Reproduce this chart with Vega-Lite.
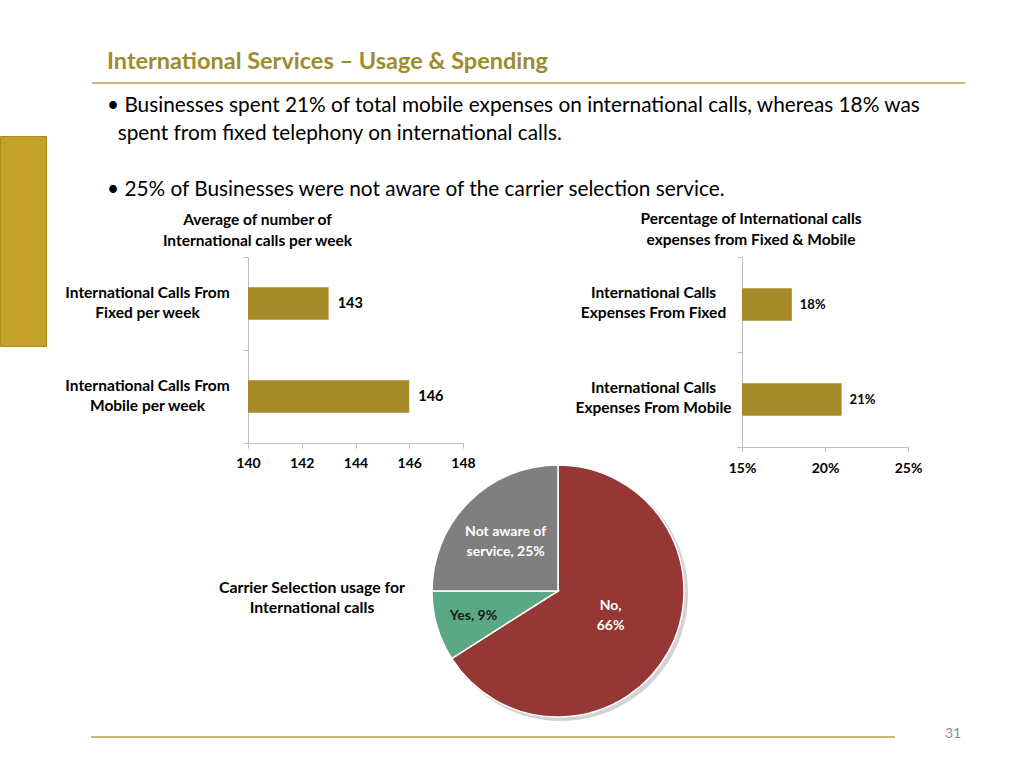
{
  "$schema": "https://vega.github.io/schema/vega-lite/v6.json",
  "autosize": {"type": "none"},
  "padding": {"left": 0, "top": 82, "right": 1024, "bottom": 686},
  "background": "white",
  "config": {
    "font": "Lato",
    "view": {"stroke": null},
    "axis": {"domainColor": "#bfbfbf", "tickColor": "#bfbfbf", "labelColor": "#000000", "labelFont": "Lato", "labelFontWeight": "bold", "grid": false, "title": null},
    "title": {"font": "Lato", "color": "#000000"}
  },
  "bounds": "flush",
  "spacing": 0,
  "vconcat": [
    {
      "bounds": "flush", "spacing": 0,
      "hconcat": [
        {"data": {"values": []}, "mark": "point", "width": 92, "height": 2},
        {"data": {"values": []}, "mark": "point", "width": 873, "height": 2,
         "view": {"fill": "#c9b77a", "stroke": null},
         "title": {"text": "International Services – Usage & Spending", "anchor": "start", "frame": "group", "dx": 15, "dy": 1, "offset": 10, "fontSize": 23.5, "fontWeight": "bold", "color": "#a08b2c"}}
      ]
    },
    {"data": {"values": []}, "mark": "point", "width": 1, "height": 54},
    {
      "bounds": "flush", "spacing": 0,
      "hconcat": [
        {"data": {"values": []}, "mark": "point", "width": 46, "height": 210,
         "view": {"fill": "#c4a22a", "stroke": "#ac8a1e", "strokeWidth": 1}},
        {"data": {"values": []}, "mark": "point", "width": 202, "height": 1},
        {
          "bounds": "flush", "spacing": 0,
          "vconcat": [
            {"data": {"values": []}, "mark": "point", "width": 1, "height": 121},
            {
              "bounds": "flush", "spacing": 279,
              "title": {
                "text": [
                  "• Businesses spent 21% of total mobile expenses on international calls, whereas 18% was",
                  "\u200b\u00a0\u00a0spent from fixed telephony on international calls.",
                  "\u200b",
                  "• 25% of Businesses were not aware of the carrier selection service."
                ],
                "anchor": "start", "frame": "group", "dx": -141, "dy": -3, "offset": 8,
                "fontSize": 20.8, "fontWeight": "normal", "lineHeight": 28, "color": "#000000"
              },
              "hconcat": [
                {
                  "width": 215, "height": 186,
                  "title": {"text": ["Average of number of", "International calls per week"], "anchor": "middle", "frame": "group", "dx": -98, "dy": 8, "offset": 9, "fontSize": 15.5, "fontWeight": "bold", "lineHeight": 21},
                  "data": {"values": [
                    {"cat": "International Calls From|Fixed per week", "v": 143},
                    {"cat": "International Calls From|Mobile per week", "v": 146}
                  ]},
                  "encoding": {
                    "y": {"field": "cat", "type": "nominal", "sort": null,
                          "scale": {"paddingInner": 0, "paddingOuter": 0},
                          "axis": {"labelExpr": "split(datum.label, '|')", "tickBand": "extent", "tickSize": 5, "labelPadding": 96, "labelAlign": "center", "labelBaseline": "middle", "labelOffset": -11, "labelLineHeight": 20, "labelFontSize": 15.5, "labelLimit": 400}},
                    "x": {"field": "v", "type": "quantitative",
                          "scale": {"domain": [140, 148], "zero": false, "nice": false},
                          "axis": {"values": [140, 142, 144, 146, 148], "tickSize": 5, "labelPadding": 8, "labelFontSize": 14, "labelFlush": false}}
                  },
                  "layer": [
                    {"mark": {"type": "bar", "color": "#a68a28", "height": {"band": 0.35}, "clip": true}},
                    {"mark": {"type": "text", "align": "left", "baseline": "middle", "dx": 9, "fontSize": 14.5, "fontWeight": "bold", "color": "#000000"},
                     "encoding": {"text": {"field": "v", "type": "quantitative"}}}
                  ]
                },
                {
                  "width": 166, "height": 190,
                  "title": {"text": ["Percentage of International calls", "expenses from Fixed  & Mobile"], "anchor": "middle", "frame": "group", "dx": -74, "dy": 7, "offset": 9, "fontSize": 15.5, "fontWeight": "bold", "lineHeight": 21},
                  "data": {"values": [
                    {"cat": "International Calls|Expenses From Fixed", "v": 0.18},
                    {"cat": "International Calls|Expenses From Mobile", "v": 0.21}
                  ]},
                  "encoding": {
                    "y": {"field": "cat", "type": "nominal", "sort": null,
                          "scale": {"paddingInner": 0, "paddingOuter": 0},
                          "axis": {"labelExpr": "split(datum.label, '|')", "tickBand": "extent", "tickSize": 5, "labelPadding": 84, "labelAlign": "center", "labelBaseline": "middle", "labelOffset": -12, "labelLineHeight": 20, "labelFontSize": 15.5, "labelLimit": 400}},
                    "x": {"field": "v", "type": "quantitative",
                          "scale": {"domain": [0.15, 0.25], "zero": false, "nice": false},
                          "axis": {"values": [0.15, 0.2, 0.25], "format": ".0%", "tickSize": 5, "labelPadding": 9, "labelFontSize": 14, "labelFlush": false}}
                  },
                  "layer": [
                    {"mark": {"type": "bar", "color": "#a68a28", "height": {"band": 0.34}, "clip": true}},
                    {"mark": {"type": "text", "align": "left", "baseline": "middle", "dx": 8, "fontSize": 13, "fontWeight": "bold", "color": "#000000"},
                     "encoding": {"text": {"field": "v", "type": "quantitative", "format": ".0%"}}}
                  ]
                }
              ]
            }
          ]
        }
      ]
    },
    {"data": {"values": []}, "mark": "point", "width": 1, "height": 329},
    {
      "bounds": "flush", "spacing": 0,
      "hconcat": [
        {"data": {"values": []}, "mark": "point", "width": 192, "height": 1},
        {"data": {"values": [{"t": "Carrier Selection usage for\nInternational calls"}]},
         "width": 240, "height": 252,
         "mark": {"type": "text", "lineBreak": "\n", "fontSize": 15.8, "fontWeight": "bold", "align": "center", "baseline": "middle", "dy": -3, "lineHeight": 20, "color": "#000000"},
         "encoding": {"text": {"field": "t"}}},
        {
          "data": {"values": [
            {"cat": "No", "label": "No,\n66%", "value": 66, "ord": 1},
            {"cat": "Yes", "label": "Yes, 9%", "value": 9, "ord": 2},
            {"cat": "Not aware of service", "label": "Not aware of\nservice, 25%", "value": 25, "ord": 3}
          ]},
          "width": 252, "height": 252,
          "encoding": {
            "theta": {"field": "value", "type": "quantitative", "stack": true},
            "order": {"field": "ord", "type": "quantitative"}
          },
          "layer": [
            {"mark": {"type": "arc", "outerRadius": 127, "color": "#9e9e9e", "opacity": 0.45, "xOffset": 3, "yOffset": 3}},
            {"mark": {"type": "arc", "outerRadius": 126, "stroke": "white", "strokeWidth": 1.5},
             "encoding": {"color": {"field": "cat", "type": "nominal", "scale": {"domain": ["No", "Yes", "Not aware of service"], "range": ["#953735", "#5ba885", "#7f7f7f"]}, "legend": null}}},
            {"mark": {"type": "text", "lineBreak": "\n", "fontSize": 14, "fontWeight": "bold", "lineHeight": 20, "align": "center", "baseline": "middle",
                      "radius": {"expr": "datum.cat === 'Yes' ? 88 : (datum.cat === 'No' ? 60 : 74)"},
                      "dy": {"expr": "datum.cat === 'Yes' ? 0 : (datum.cat === 'No' ? -14 : -7)"}},
             "encoding": {"text": {"field": "label"},
                          "color": {"condition": {"test": "datum.cat === 'Yes'", "value": "#1a1a1a"}, "value": "#ffffff"}}}
          ]
        }
      ]
    },
    {"data": {"values": []}, "mark": "point", "width": 1, "height": 271},
    {
      "bounds": "flush", "spacing": 0,
      "hconcat": [
        {"data": {"values": []}, "mark": "point", "width": 91, "height": 1},
        {"data": {"values": []}, "mark": "point", "width": 804, "height": 2, "view": {"fill": "#c9b77a", "stroke": null}},
        {"data": {"values": []}, "mark": "point", "width": 38, "height": 1},
        {"data": {"values": [{"p": "31"}]}, "width": 40, "height": 2,
         "mark": {"type": "text", "fontSize": 14, "fontWeight": "normal", "color": "#8c8c8c", "dy": -3, "align": "center", "baseline": "middle"},
         "encoding": {"text": {"field": "p"}}}
      ]
    }
  ]
}
